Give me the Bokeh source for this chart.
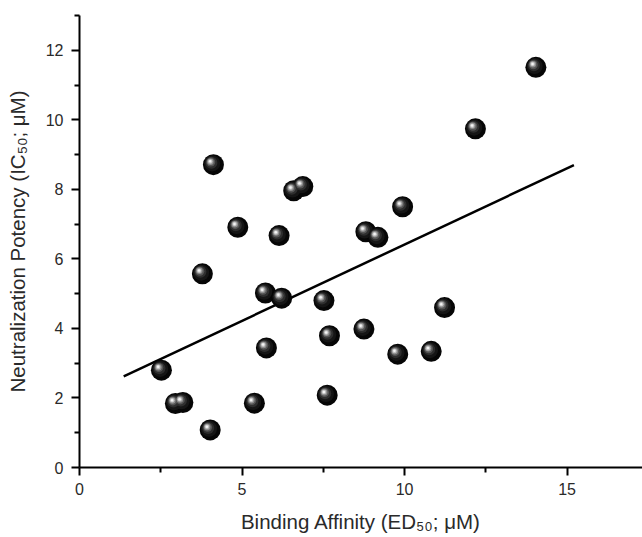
from bokeh.plotting import figure
from bokeh.models import FixedTicker, ColumnDataSource, Range1d
from bokeh.transform import dodge
from bokeh.embed import file_html
from bokeh.resources import INLINE

# ---- data ----
binding_affinity = [4.12, 6.59, 6.87, 4.87, 6.14, 8.81, 9.18, 3.78, 5.72, 6.22,
                    7.52, 7.69, 8.75, 5.75, 2.52, 2.95, 3.18, 5.38, 4.02, 7.62,
                    14.04, 12.18, 9.94, 11.23, 9.79, 10.82]
neutralization = [8.71, 7.96, 8.08, 6.91, 6.67, 6.78, 6.62, 5.57, 5.02, 4.87,
                  4.80, 3.79, 3.98, 3.44, 2.80, 1.84, 1.87, 1.85, 1.08, 2.08,
                  11.51, 9.74, 7.50, 4.60, 3.26, 3.34]
fit_x = [1.36, 15.21]
fit_y = [2.62, 8.70]
x_major = [0, 5, 10, 15]
x_minor = [2.5, 7.5, 12.5]
y_major = [0, 2, 4, 6, 8, 10, 12]
y_minor = [1, 3, 5, 7, 9, 11, 13]

x_title = "Binding Affinity (ED\u2085\u2080; \u03bcM)"
y_title = "Neutralization Potency (IC\u2085\u2080; \u03bcM)"

# ---- layout ----
W, H = 642, 537
BL, BR, BT, BB = 79, 0, 15, 70
X0, X1 = 0, 17.32
Y0, Y1 = 0, 13
FONT = "Liberation Sans"

p = figure(width=W, height=H, x_range=Range1d(X0, X1), y_range=Range1d(Y0, Y1),
           output_backend="svg", toolbar_location=None,
           min_border_left=BL, min_border_right=BR,
           min_border_top=BT, min_border_bottom=BB)
p.outline_line_color = None
p.xgrid.visible = False
p.ygrid.visible = False
p.background_fill_color = "white"
p.border_fill_color = "white"

for ax, major, minor, title in ((p.xaxis[0], x_major, x_minor, x_title),
                                (p.yaxis[0], y_major, y_minor, y_title)):
    ax.ticker = FixedTicker(ticks=major, minor_ticks=minor)
    ax.axis_line_width = 2
    ax.axis_line_color = "black"
    ax.major_tick_line_width = 2
    ax.minor_tick_line_width = 2
    ax.major_tick_line_color = "black"
    ax.minor_tick_line_color = "black"
    ax.major_tick_in = 0
    ax.major_tick_out = 8
    ax.minor_tick_in = 0
    ax.minor_tick_out = 5
    ax.major_label_text_font = FONT
    ax.major_label_text_font_size = "16px"
    ax.major_label_text_color = "#2a2a2a"
    ax.axis_label = title
    ax.axis_label_text_font = FONT
    ax.axis_label_text_font_size = "20.5px"
    ax.axis_label_text_font_style = "normal"
    ax.axis_label_text_color = "#2a2a2a"

p.xaxis[0].major_label_standoff = 7
p.xaxis[0].axis_label_standoff = 12
p.yaxis[0].major_label_standoff = 8
p.yaxis[0].axis_label_standoff = 14

# regression line
p.line(fit_x, fit_y, line_color="black", line_width=2.5)

# spheres
src = ColumnDataSource(dict(x=binding_affinity, y=neutralization))
px_x = (X1 - X0) / (W - BL - BR)
px_y = (Y1 - Y0) / (H - BT - BB)

p.scatter("x", "y", source=src, size=21, fill_color="#060606", line_color=None)
layers = [  # (size, color, offset in px up-left)
    (16, "#151515", 1.2),
    (12, "#2e2e2e", 2.0),
    (9, "#555555", 2.6),
    (6.5, "#8c8c8c", 3.0),
    (4.5, "#c4c4c4", 3.2),
    (2.5, "#f4f4f4", 3.3),
]
for size, color, off in layers:
    p.scatter(dodge("x", -off * px_x), dodge("y", off * px_y), source=src,
              size=size, fill_color=color, line_color=None)

open("out.html", "w").write(file_html(p, INLINE))
